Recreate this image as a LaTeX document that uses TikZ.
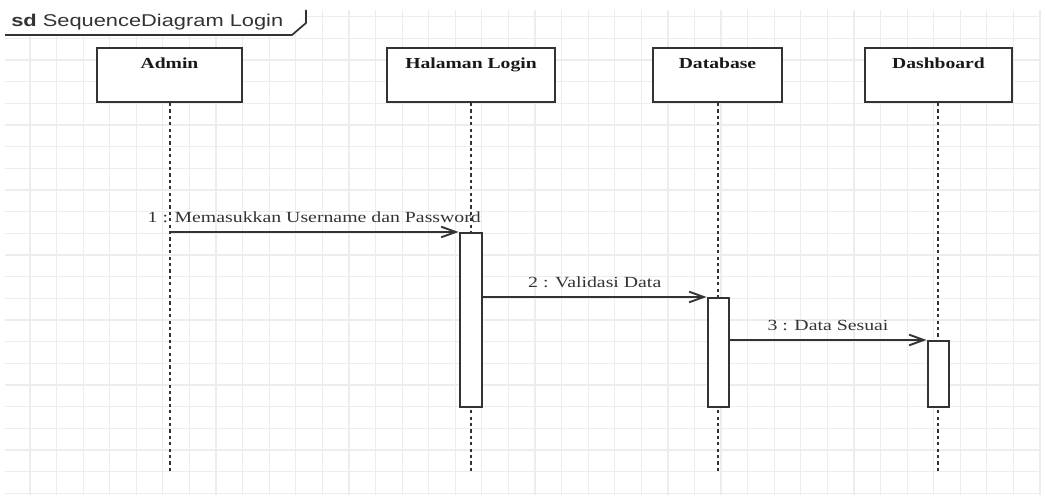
\documentclass[tikz,border=0pt]{standalone}
\usepackage{fontspec}
\setmainfont{Liberation Serif}
\setsansfont{Liberation Sans}
\usetikzlibrary{arrows.meta,fit,calc}
\definecolor{ln}{HTML}{333333}
\definecolor{gridc}{HTML}{EDEDED}
\newcommand{\sx}[1]{\scalebox{1.28}[1]{#1}}
\tikzset{
 headbox/.style={draw=ln, line width=1.5pt, fill=white, inner sep=0pt},
 actbox/.style={draw=ln, line width=1.5pt, fill=white, inner sep=0pt},
 headlabel/.style={font=\fontsize{11.5}{13}\selectfont\bfseries, text=black!90, anchor=base, inner sep=0pt},
 msglabel/.style={font=\fontsize{11.6}{13}\selectfont, text=ln, anchor=base, inner sep=0pt},
 lifeline/.style={draw=ln, line width=1.5pt, dash pattern=on 2.4pt off 2.4pt},
 msg/.style={draw=ln, line width=1.4pt, -{Straight Barb[length=11pt,width=8pt,line width=1.4pt]}},
 gridline/.style={draw=gridc, line width=0.9pt},
 titletext/.style={font=\fontsize{12.8}{14}\selectfont\sffamily, text=ln, anchor=base west, inner sep=0pt},
}
\begin{document}
\begin{tikzpicture}[x=0.75pt,y=-0.75pt]
\useasboundingbox (0,0) rectangle (1045,498);
\fill[white] (0,0) rectangle (1045,498);
% grid
\foreach \k in {1,...,39} \draw[gridline] ({3.4+26.58*\k},10) -- ({3.4+26.58*\k},495);
\foreach \k in {0,...,22} \draw[gridline] (5,{16.65+21.67*\k}) -- (1040,{16.65+21.67*\k});
% frame label
\fill[white] (5,10) -- (306,10) -- (306,23) -- (292,35) -- (5,35) -- cycle;
\draw[ln, line width=1.3pt] (5,35) -- (292,35) -- (306,23) -- (306,10);
\node[titletext] (title) at (11,27) {\sx{\textbf{sd} SequenceDiagram Login}};
% lifeline ends
\coordinate (adminend) at (170,472);
\coordinate (loginend) at (471,472);
\coordinate (dbend) at (718,472);
\coordinate (dashend) at (938,472);
% heads
\node[headbox, fit={(97,48) (242,102)}] (admin) {};
\node[headbox, fit={(387,48) (555,102)}] (login) {};
\node[headbox, fit={(653,48) (782,102)}] (db) {};
\node[headbox, fit={(865,48) (1012,102)}] (dash) {};
\node[headlabel] (adminlbl) at ($(admin.north)+(0,22)$) {\sx{Admin}};
\node[headlabel] (loginlbl) at ($(login.north)+(0,22)$) {\sx{Halaman Login}};
\node[headlabel] (dblbl) at ($(db.north)+(0,22)$) {\sx{Database}};
\node[headlabel] (dashlbl) at ($(dash.north)+(0,22)$) {\sx{Dashboard}};
% lifelines
\draw[lifeline] (adminend |- admin.south) -- (adminend);
\draw[lifeline] (loginend |- login.south) -- (loginend);
\draw[lifeline] (dbend |- db.south) -- (dbend);
\draw[lifeline] (dashend |- dash.south) -- (dashend);
% activations
\node[actbox, fit={(459.5,233) (482,407)}] (act1) {};
\node[actbox, fit={(707.5,298) (728.5,407)}] (act2) {};
\node[actbox, fit={(927.5,341) (948.5,407)}] (act3) {};
% messages
\draw[msg] (adminend |- act1.north) -- node[msglabel, midway, yshift=7pt] (m1) {\sx{1 : Memasukkan Username dan Password}} (act1.north west);
\draw[msg] (act1.east |- act2.north) -- node[msglabel, midway, yshift=7pt] (m2) {\sx{2 : Validasi Data}} (act2.north west);
\draw[msg] (act2.east |- act3.north) -- node[msglabel, midway, yshift=7pt] (m3) {\sx{3 : Data Sesuai}} (act3.north west);
\end{tikzpicture}
\end{document}
